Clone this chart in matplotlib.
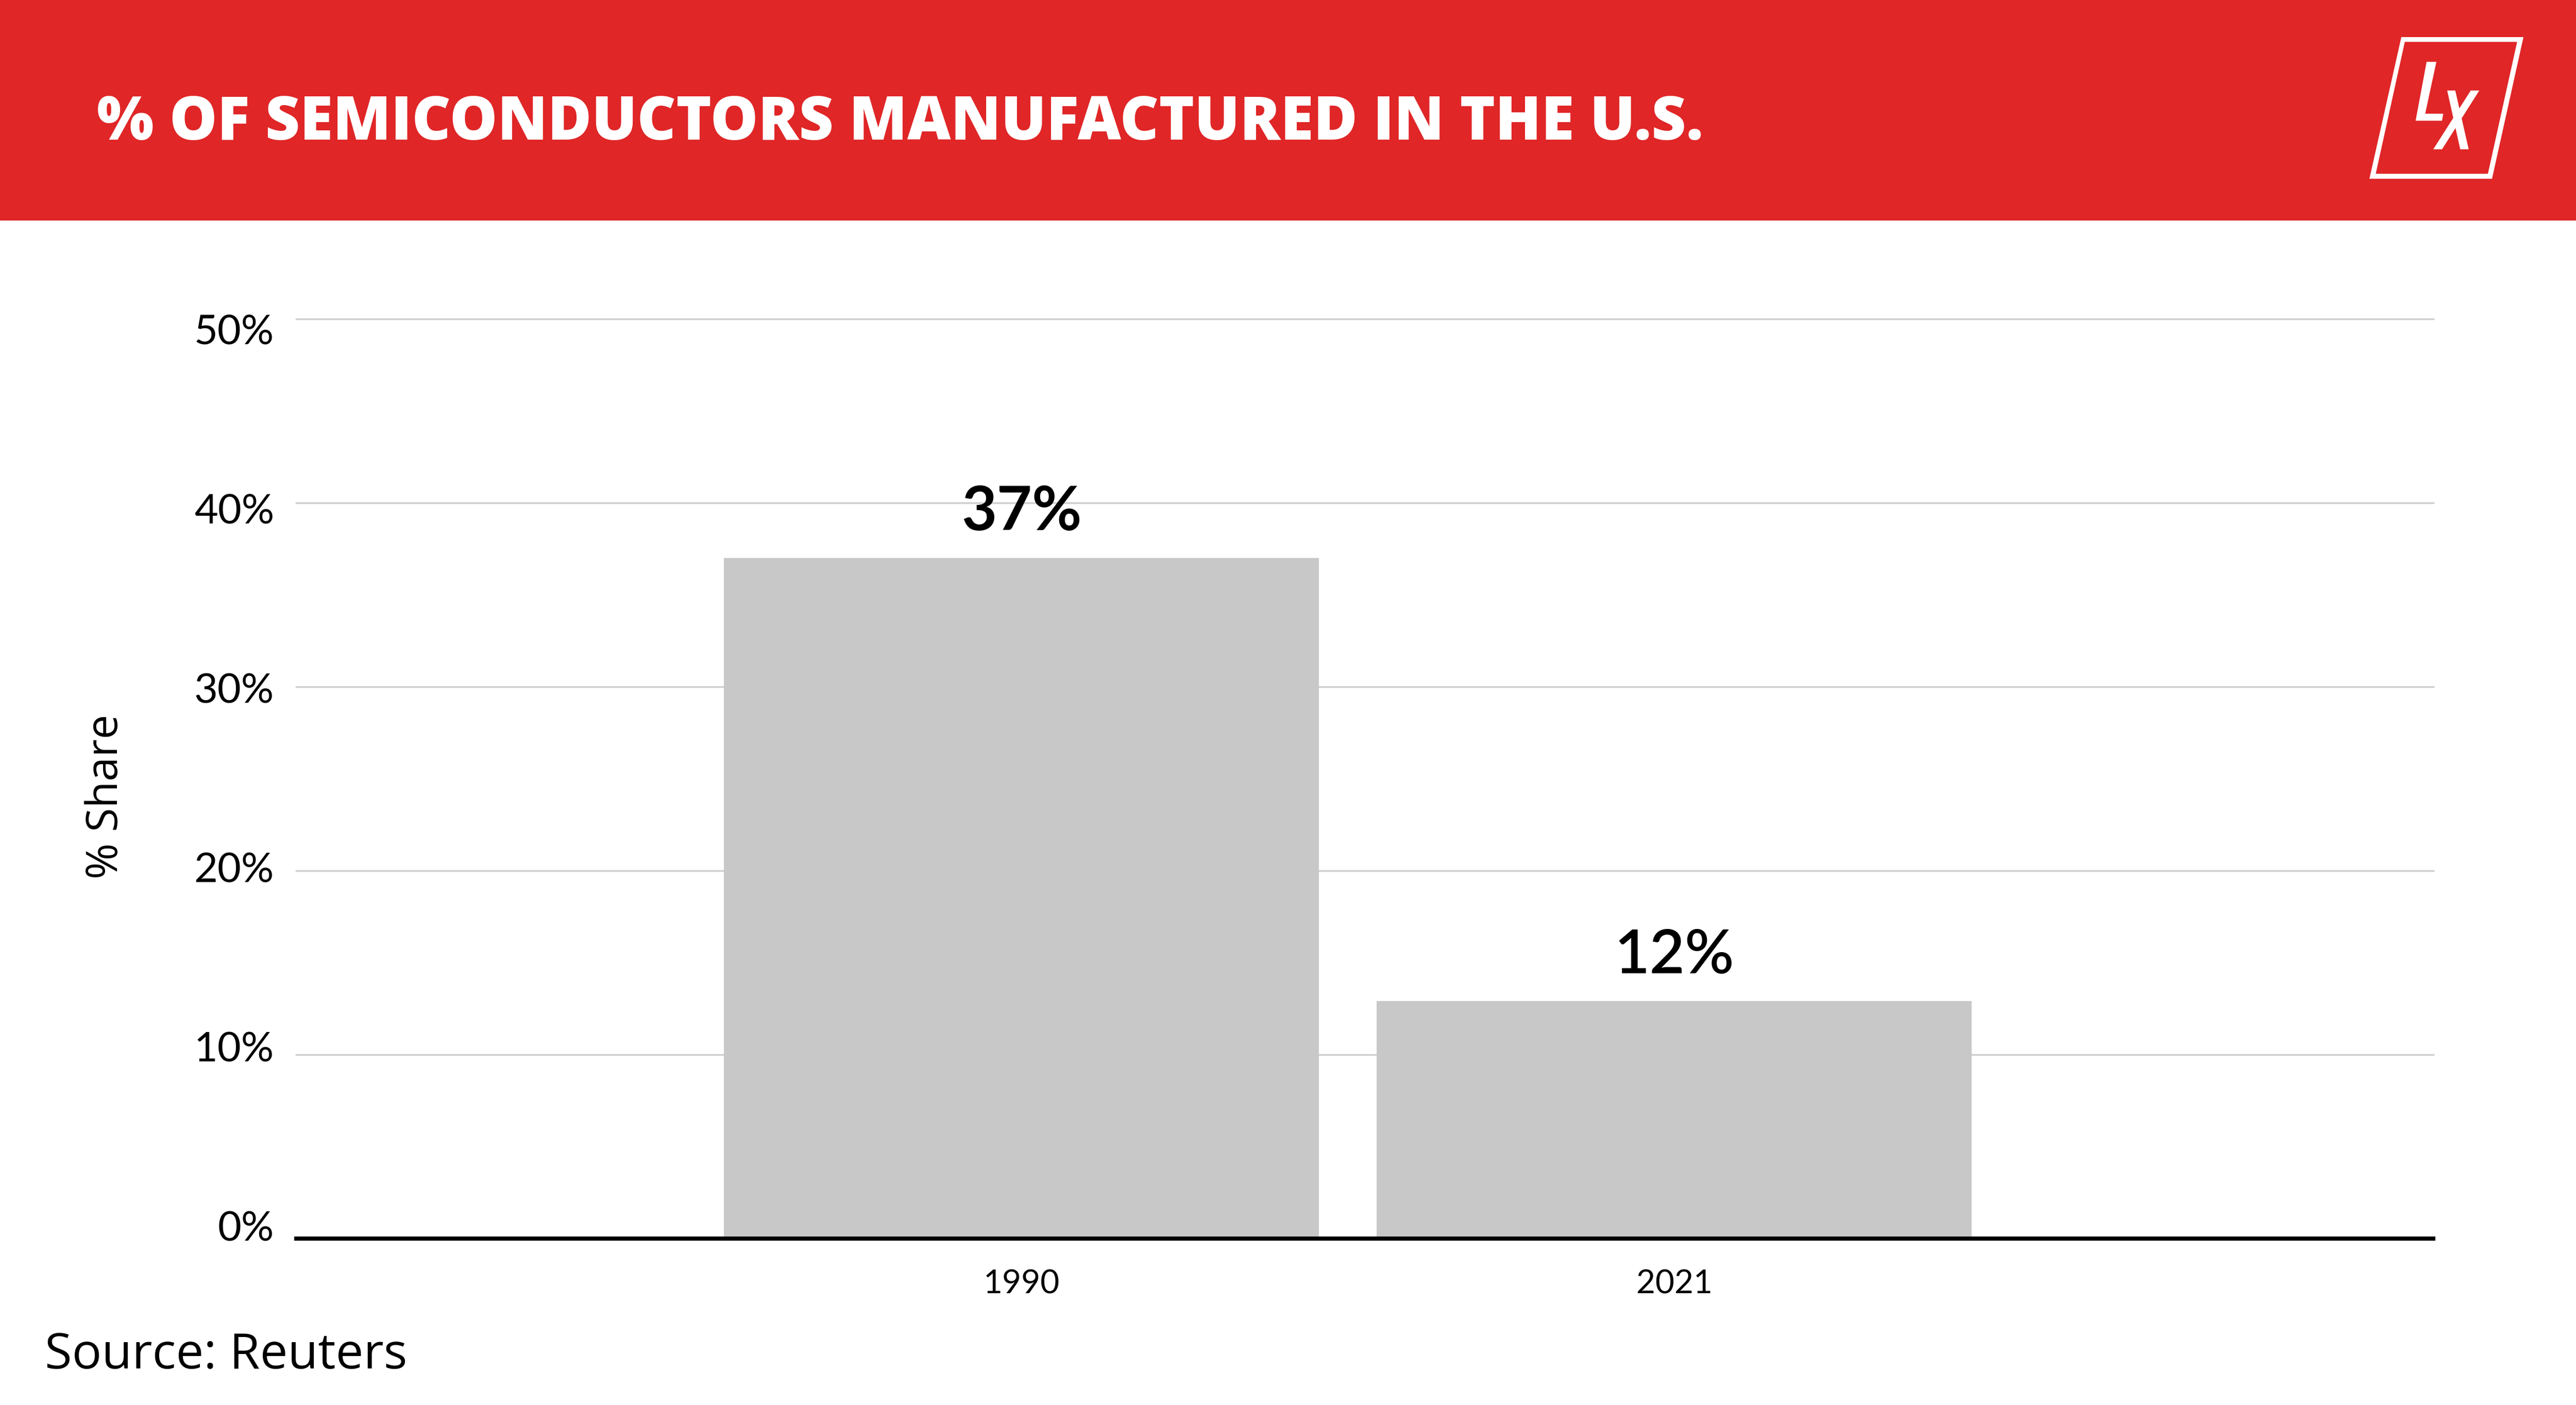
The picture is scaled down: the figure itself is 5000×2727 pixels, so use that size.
import matplotlib
matplotlib.use("Agg")
import matplotlib.pyplot as plt
from matplotlib.patches import Rectangle, Polygon

# ---- data ----
categories = ["1990", "2021"]
shares = [37, 12.9]
bar_labels = ["37%", "12%"]
yticks = [0, 10, 20, 30, 40, 50]
ytick_labels = ["0%", "10%", "20%", "30%", "40%", "50%"]
title = "% OF SEMICONDUCTORS MANUFACTURED IN THE U.S."
ylabel = "% Share"
source = "Source: Reuters"

W, H = 5000, 2727
DPI = 100
RED = "#E02627"
plt.rcParams['font.family'] = ['Lato', 'DejaVu Sans']
WIDE = ['Open Sans', 'Lato', 'DejaVu Sans']

fig = plt.figure(figsize=(W / DPI, H / DPI), dpi=DPI)
fig.patch.set_facecolor("white")

def fx(x):
    return x / W

def fy(y):
    return 1 - y / H

# header band
fig.patches.append(Rectangle((0, fy(428)), 1, 428 / H, transform=fig.transFigure,
                             facecolor=RED, edgecolor="none", zorder=0))
fig.text(fx(188), fy(271), title, color="white", fontsize=84, fontweight="heavy",
         family=WIDE, ha="left", va="baseline")

# logo
def poly(pts, color, z=2):
    fig.patches.append(Polygon([(fx(x), fy(y)) for x, y in pts], closed=True,
                               transform=fig.transFigure, facecolor=color,
                               edgecolor="none", zorder=z))

poly([(4661, 72), (4898, 72), (4837, 347), (4599, 347)], "white", 2)
poly([(4667.7, 81.3), (4885.7, 81.3), (4829, 337.3), (4611.3, 337.3)], RED, 3)
poly([(4710, 120), (4729, 120), (4707.3, 220.7), (4742.3, 220.7), (4740, 234.3),
      (4688.7, 234.3)], "white", 4)
poly([(4750, 175.7), (4765.7, 175.7), (4791.7, 289.7), (4775.3, 289.7)], "white", 4)
poly([(4795.7, 175.7), (4812.3, 175.7), (4740, 289.7), (4723, 289.7)], "white", 4)

# main axes
left, right, top, bottom = 575, 4723, 619, 2404
rect = [fx(left), fy(bottom), (right - left) / W, (bottom - top) / H]
ax = fig.add_axes(rect)
x = list(range(len(categories)))
bars = ax.bar(x, shares, width=0.912, color="#C8C8C8", zorder=2)
ax.set_xlim(-1.111, 2.163)
ax.set_ylim(0, 50)
ax.set_yticks(yticks)
ax.set_yticklabels([])
ax.tick_params(axis="y", length=0)
ax.grid(axis="y", color="#CFCFCF", linewidth=2.5, zorder=0)
for gl in ax.get_ygridlines():
    gl.set_clip_on(False)
ax.set_axisbelow(True)
for s in ["top", "right", "left"]:
    ax.spines[s].set_visible(False)
ax.spines["bottom"].set_linewidth(5.8)
ax.spines["bottom"].set_color("black")
ax.spines["bottom"].set_zorder(5)
ax.set_xticks(x)
ax.set_xticklabels(categories, fontsize=46)
ax.tick_params(axis="x", length=0, pad=43)

weights = ["bold", "semibold"]
for xi, v, lab, wgt in zip(x, shares, bar_labels, weights):
    ax.annotate(lab, (xi, v), xytext=(0, 39), textcoords="offset points",
                ha="center", va="baseline", fontsize=85, fontweight=wgt)

# y tick labels (slightly compressed spacing as in reference)
axl = fig.add_axes(rect, frameon=False)
axl.set_ylim(-0.69, 50.6)
axl.set_xticks([])
axl.set_yticks(yticks)
axl.set_yticklabels(ytick_labels, fontsize=57)
axl.tick_params(axis="y", length=0, pad=31)
axl.patch.set_alpha(0)

fig.text(fx(206), fy(1546), ylabel, rotation=90, fontsize=61, family=WIDE,
         ha="center", va="center")
fig.text(fx(87), fy(2656), source, fontsize=69, family=WIDE, ha="left", va="baseline")

fig.savefig("out.png", dpi=DPI)
